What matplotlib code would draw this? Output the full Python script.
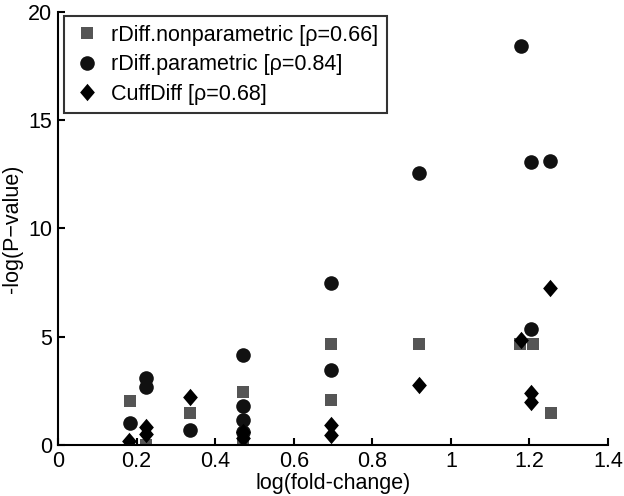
import matplotlib
matplotlib.use("Agg")
import matplotlib.pyplot as plt

plt.rcParams['font.family'] = ['Liberation Sans', 'DejaVu Sans']

# data
np_x = [0.184, 0.224, 0.337, 0.470, 0.470, 0.695, 0.695, 0.918, 1.175, 1.210, 1.254]
np_y = [2.05, 0.00, 1.46, 2.45, 0.00, 4.66, 2.08, 4.66, 4.66, 4.66, 1.49]

par_x = [0.182, 0.224, 0.224, 0.337, 0.470, 0.470, 0.470, 0.470, 0.695, 0.695, 0.918, 1.179, 1.205, 1.253, 1.205]
par_y = [1.00, 3.07, 2.69, 0.69, 4.15, 1.80, 1.15, 0.62, 7.47, 3.46, 12.57, 18.42, 13.05, 13.12, 5.35]

cd_x = [0.180, 0.224, 0.224, 0.337, 0.470, 0.470, 0.695, 0.695, 0.918, 1.179, 1.205, 1.205, 1.253]
cd_y = [0.18, 0.84, 0.51, 2.20, 0.62, 0.32, 0.92, 0.46, 2.77, 4.84, 2.38, 2.00, 7.23]

labels = ['rDiff.nonparametric [\u03c1=0.66]', 'rDiff.parametric [\u03c1=0.84]', 'CuffDiff [\u03c1=0.68]']
xticks = [0, 0.2, 0.4, 0.6, 0.8, 1, 1.2, 1.4]
xticklabels = ['0', '0.2', '0.4', '0.6', '0.8', '1', '1.2', '1.4']
yticks = [0, 5, 10, 15, 20]

FS = 15.5
diamond = [(0, 1), (0.85, 0), (0, -1), (-0.85, 0), (0, 1)]

fig = plt.figure(figsize=(6.24, 4.96), dpi=100)
ax = fig.add_axes([58/624, 1-445/496, (608-58)/624, (445-11.7)/496])

ax.plot(np_x, np_y, linestyle='none', marker='s', markersize=8.5, color='#555555', mec='#555555', mew=0, label=labels[0])
ax.plot(par_x, par_y, linestyle='none', marker='o', markersize=10.5, color='#111111', mec='#111111', mew=0, label=labels[1])
ax.plot(cd_x, cd_y, linestyle='none', marker=diamond, markersize=12.5, color='#000000', mec='#000000', mew=0, label=labels[2])

ax.set_xlim(0, 1.4)
ax.set_ylim(0, 20)
ax.set_xticks(xticks)
ax.set_xticklabels(xticklabels)
ax.set_yticks(yticks)
ax.spines['top'].set_visible(False)
ax.spines['right'].set_visible(False)
ax.spines['left'].set_linewidth(1.5)
ax.spines['bottom'].set_linewidth(1.5)
ax.tick_params(direction='in', length=5, width=1.5, labelsize=FS)
ax.tick_params(axis='x', pad=4)
ax.tick_params(axis='y', pad=4)
ax.set_xlabel('log(fold-change)', fontsize=FS)
ax.set_ylabel('-log(P\u2212value)', fontsize=FS)
ax.xaxis.set_label_coords(0.5, -(473 - 445) / 433.3)
ax.yaxis.set_label_coords(-(58 - 23) / 550, 0.5)

leg = ax.legend(loc='upper left', bbox_to_anchor=(6/550, 1-4.3/433), borderaxespad=0,
                fontsize=FS, frameon=True, fancybox=False,
                edgecolor='black', handletextpad=0.48,
                labelspacing=0.4, borderpad=0.4, handlelength=1.3, numpoints=1)
leg.get_frame().set_linewidth(1.5)

fig.savefig('out.png', dpi=100)
